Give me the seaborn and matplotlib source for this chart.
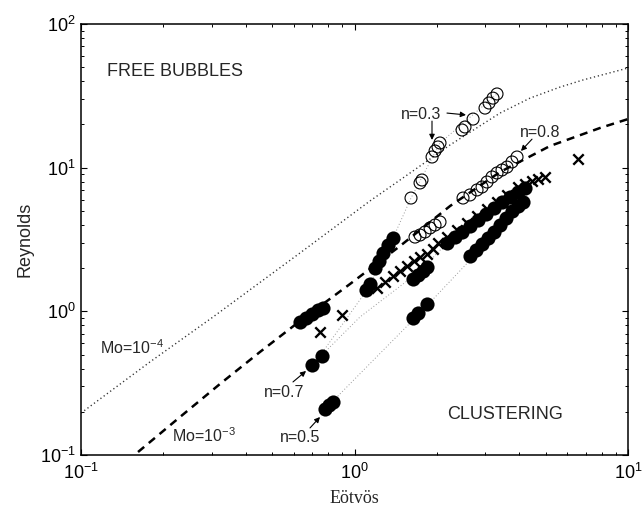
import matplotlib
matplotlib.use("Agg")
import matplotlib.pyplot as plt
import seaborn as sns
from matplotlib.ticker import LogLocator, NullFormatter

# ---- measured bubble data (Eötvös, Reynolds) ----
# open circles, n = 0.3 run
eo_open_03 = [1.609, 1.736, 1.765, 1.921, 1.970, 2.020, 2.054, 2.473, 2.535,
              2.713, 3.000, 3.103, 3.209, 3.319]
re_open_03 = [6.15, 7.83, 8.21, 11.87, 13.07, 13.94, 14.86, 18.3, 19.2,
              21.8, 26.0, 28.2, 30.5, 32.6]

# open circles, n = 0.8 run
eo_open_08 = [1.664, 1.736, 1.811, 1.889, 1.970, 2.054, 2.493, 2.644, 2.805,
              2.926, 3.051, 3.182, 3.319, 3.462, 3.611, 3.766, 3.928]
re_open_08 = [3.29, 3.40, 3.57, 3.81, 3.99, 4.19, 6.15, 6.46, 7.00,
              7.34, 7.95, 8.62, 9.19, 9.64, 10.1, 10.96, 11.87]

# filled circles
eo_filled = [0.632, 0.665, 0.699, 0.735, 0.767,
             0.699, 0.760,
             0.780, 0.807, 0.834,
             1.101, 1.139,
             1.188, 1.229, 1.271, 1.326, 1.383,
             1.636, 1.707, 1.780, 1.841,
             1.636, 1.707, 1.841,
             2.178, 2.330, 2.473, 2.644, 2.829, 3.024, 3.236, 3.462, 3.703, 3.961, 4.201,
             2.644, 2.782, 2.926, 3.077, 3.236, 3.404, 3.580, 3.766, 3.961, 4.130]
re_filled = [0.844, 0.899, 0.959, 1.023, 1.056,
             0.424, 0.490,
             0.209, 0.223, 0.234,
             1.41, 1.55,
             2.00, 2.24, 2.55, 2.90, 3.24,
             1.68, 1.79, 1.91, 2.04,
             0.899, 0.975, 1.126,
             2.99, 3.29, 3.57, 3.93, 4.33, 4.76, 5.24, 5.77, 6.25, 6.77, 7.22,
             2.43, 2.67, 2.94, 3.24, 3.57, 3.99, 4.47, 4.99, 5.41, 5.77]

# crosses
eo_cross = [0.748, 0.900, 1.208, 1.293, 1.383, 1.467, 1.556, 1.650, 1.736,
            1.841, 1.936, 2.020, 2.178, 2.370, 2.578, 2.805, 3.051, 3.319,
            3.611, 3.961, 4.201, 4.456, 4.687, 4.972, 6.565]
re_cross = [0.719, 0.944, 1.455, 1.60, 1.76, 1.91, 2.07, 2.24, 2.39,
            2.51, 2.72, 2.99, 3.29, 3.69, 4.12, 4.61, 5.16, 5.77,
            6.46, 7.34, 7.70, 8.08, 8.35, 8.62, 11.5]

# ---- single-bubble terminal curves ----
eo_mo4 = [0.100, 0.1788, 0.3039, 0.632, 1.139, 1.467, 2.235, 3.404, 4.382, 5.641, 6.846, 10.0]
re_mo4 = [0.196, 0.445, 0.914, 2.55, 5.87, 8.21, 14.4, 24.0, 30.5, 36.4, 40.8, 49.4]

eo_mo3 = [0.1616, 0.2301, 0.3222, 0.4513, 0.632, 0.963, 1.467, 2.235, 3.404, 5.185, 7.90, 10.0]
re_mo3 = [0.105, 0.184, 0.3125, 0.522, 0.857, 1.551, 2.85, 5.41, 9.33, 14.16, 18.9, 21.8]

# ---- guide lines through the swarm runs ----
eo_guide_03 = [0.729, 1.111, 1.383, 1.609, 2.054, 3.319]
re_guide_03 = [0.459, 1.41, 3.24, 6.15, 14.86, 32.6]
eo_guide_07 = [0.729, 1.047, 1.736, 2.178, 4.201]
re_guide_07 = [0.459, 0.914, 1.91, 2.99, 7.22]
eo_guide_05 = [0.807, 1.736, 2.689, 4.130]
re_guide_05 = [0.223, 0.975, 2.35, 5.77]

sns.set_theme(style="ticks")
plt.rcParams.update({
    "font.family": ["Liberation Sans", "DejaVu Sans"],
    "mathtext.fontset": "custom",
    "mathtext.rm": "Liberation Sans",
    "mathtext.it": "Liberation Sans:italic",
    "mathtext.bf": "Liberation Sans:bold",
    "mathtext.default": "regular",
    "axes.edgecolor": "black",
    "axes.linewidth": 1.1,
    "xtick.color": "black", "ytick.color": "black",
    "xtick.direction": "in", "ytick.direction": "in",
    "xtick.top": True, "ytick.right": True,
    "xtick.major.size": 4, "ytick.major.size": 4,
    "xtick.minor.size": 2, "ytick.minor.size": 2,
    "xtick.major.width": 0.8, "ytick.major.width": 0.8,
    "xtick.minor.width": 0.7, "ytick.minor.width": 0.7,
    "xtick.labelsize": 13, "ytick.labelsize": 13,
})

fig = plt.figure(figsize=(6.43, 5.09), dpi=100, facecolor="white")
ax = fig.add_axes([0.126, 0.106, 0.8507, 0.8468])
ax.set_xscale("log")
ax.set_yscale("log")

guide_kw = dict(color="#9a9a9a", linewidth=0.7, linestyle=(0, (1, 2.2)),
                sort=False, estimator=None, ax=ax)
sns.lineplot(x=eo_guide_03, y=re_guide_03, **guide_kw)
sns.lineplot(x=eo_guide_07, y=re_guide_07, **guide_kw)
sns.lineplot(x=eo_guide_05, y=re_guide_05, **guide_kw)

sns.lineplot(x=eo_mo4, y=re_mo4, color="#333333", linewidth=1.0,
             linestyle=(0, (0.9, 2.0)), sort=False, estimator=None, ax=ax)
sns.lineplot(x=eo_mo3, y=re_mo3, color="black", linewidth=1.8,
             linestyle=(0, (3.2, 2.4)), sort=False, estimator=None, ax=ax)

sns.scatterplot(x=eo_filled, y=re_filled, marker="o", s=104, color="black",
                edgecolor="black", linewidth=0, ax=ax, zorder=3)
sns.scatterplot(x=eo_cross, y=re_cross, marker="x", s=56, color="black",
                linewidth=1.7, ax=ax, zorder=4)
sns.scatterplot(x=eo_open_08, y=re_open_08, marker="o", s=74, color="none",
                edgecolor="black", linewidth=0.8, ax=ax, zorder=4)
sns.scatterplot(x=eo_open_03, y=re_open_03, marker="o", s=74, color="none",
                edgecolor="black", linewidth=0.8, ax=ax, zorder=4)

ax.set_xlim(0.1, 10)
ax.set_ylim(0.1, 100)
ax.xaxis.set_major_locator(LogLocator(base=10))
ax.yaxis.set_major_locator(LogLocator(base=10))
ax.xaxis.set_minor_locator(LogLocator(base=10, subs=range(2, 10)))
ax.yaxis.set_minor_locator(LogLocator(base=10, subs=range(2, 10)))
ax.xaxis.set_minor_formatter(NullFormatter())
ax.yaxis.set_minor_formatter(NullFormatter())
ax.tick_params(axis="x", which="major", pad=6)
ax.tick_params(axis="y", which="major", pad=4)
for side in ["top", "right", "left", "bottom"]:
    ax.spines[side].set_visible(True)
ax.grid(False)

ax.set_ylabel("Reynolds", fontsize=13, labelpad=4)
ax.set_xlabel("Eötvös", fontsize=13, family=["Liberation Serif", "DejaVu Serif"],
              labelpad=5)

# region and curve labels
ax.text(0.0475, 0.891, "FREE BUBBLES", transform=ax.transAxes, fontsize=13,
        ha="left", va="center")
ax.text(0.669, 0.093, "CLUSTERING", transform=ax.transAxes, fontsize=13,
        ha="left", va="center")
ax.text(0.0347, 0.234, "Mo=10$^{-4}$", transform=ax.transAxes, fontsize=11.5,
        ha="left", va="baseline")
ax.text(0.1663, 0.030, "Mo=10$^{-3}$", transform=ax.transAxes, fontsize=11.5,
        ha="left", va="baseline")

arrow = dict(arrowstyle="-|>", color="black", lw=0.8, mutation_scale=8,
             shrinkA=0, shrinkB=0)
ax.text(1.750, 23.6, "n=0.3", fontsize=11.5, ha="center", va="center")
ax.annotate("", xy=(2.556, 23.3), xytext=(2.178, 24.0), arrowprops=arrow)
ax.annotate("", xy=(1.920, 15.6), xytext=(1.920, 21.1), arrowprops=arrow)

ax.text(4.764, 17.7, "n=0.8", fontsize=11.5, ha="center", va="center")
ax.annotate("", xy=(4.06, 13.07), xytext=(4.456, 15.8), arrowprops=arrow)

ax.text(0.5524, 0.2705, "n=0.7", fontsize=11.5, ha="center", va="center")
ax.annotate("", xy=(0.665, 0.3848), xytext=(0.5957, 0.3227), arrowprops=arrow)

ax.text(0.632, 0.1315, "n=0.5", fontsize=11.5, ha="center", va="center")
ax.annotate("", xy=(0.748, 0.184), xytext=(0.6875, 0.1544), arrowprops=arrow)

fig.savefig("out.png", dpi=100, facecolor="white")
